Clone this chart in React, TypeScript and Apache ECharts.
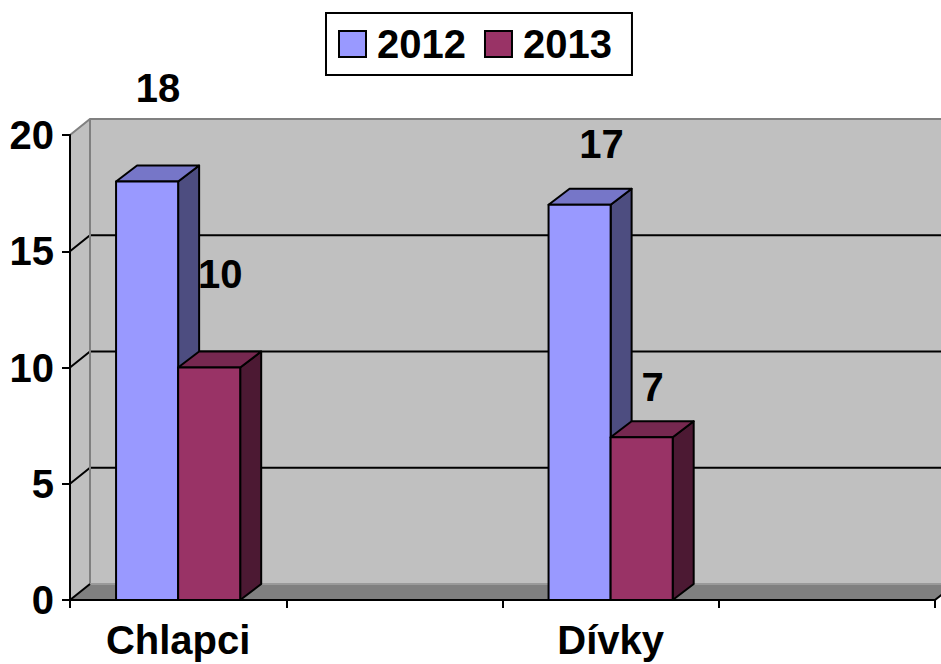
import React, { useEffect, useRef } from "react";
import * as echarts from "echarts";

const categories = ["Chlapci", "", "Dívky", ""];
const values2012 = [18, null, 17, null];
const values2013 = [10, null, 7, null];
const yMin = 0;
const yMax = 20;
const yStep = 5;
const seriesNames = ["2012", "2013"];

// style constants
const FONT = "'Liberation Sans', Arial, Helvetica, sans-serif";
const DX = 20; // wall depth offset
const DY = -16;
const BDX = 21; // bar depth offset
const BDY = -16;
const BAR_FRAC = 0.287;
const COLORS = {
  "2012": { front: "#9999FF", top: "#7676C8", side: "#4D4D80" },
  "2013": { front: "#993366", top: "#762850", side: "#4C1933" },
};
// label offsets in px relative to bar front top-centre, per category
const LABEL_SHIFT: Record<string, number[][]> = {
  "2012": [[11, -94], [0, 0], [22, -61], [0, 0]],
  "2013": [[11, -94], [0, 0], [11, -50], [0, 0]],
};

function toData(vals: (number | null)[]) {
  const out: number[][] = [];
  vals.forEach((v, i) => {
    if (v != null) out.push([i, v]);
  });
  return out;
}

function wallRender(params: any, api: any) {
  const cs = params.coordSys;
  const L = cs.x;
  const R = cs.x + cs.width;
  const B = api.coord([0, yMin])[1];
  const T = api.coord([0, yMax])[1];
  const children: any[] = [];
  // back wall
  children.push({
    type: "polygon",
    shape: { points: [[L + DX, T + DY], [R + DX + 40, T + DY], [R + DX + 40, B + DY], [L + DX, B + DY]] },
    style: { fill: "#C0C0C0", stroke: "none" },
  });
  // left wall
  children.push({
    type: "polygon",
    shape: { points: [[L, T], [L + DX, T + DY], [L + DX, B + DY], [L, B]] },
    style: { fill: "#C0C0C0", stroke: "none" },
  });
  // floor
  children.push({
    type: "polygon",
    shape: { points: [[L, B], [L + DX, B + DY], [R + DX, B + DY], [R, B]] },
    style: { fill: "#808080", stroke: "none" },
  });
  // gridlines
  for (let t = yMin + yStep; t < yMax; t += yStep) {
    const y = api.coord([0, t])[1];
    children.push({
      type: "polyline",
      shape: { points: [[L, y], [L + DX, y + DY], [R + DX + 40, y + DY]] },
      style: { stroke: "#000", lineWidth: 2, fill: "none" },
    });
  }
  // wall edges
  children.push({
    type: "polyline",
    shape: { points: [[L, T], [L + DX, T + DY], [R + DX + 40, T + DY]] },
    style: { stroke: "#808080", lineWidth: 2, fill: "none" },
  });
  children.push({
    type: "line",
    shape: { x1: L + DX, y1: T + DY, x2: L + DX, y2: B + DY },
    style: { stroke: "#808080", lineWidth: 2 },
  });
  children.push({
    type: "line",
    shape: { x1: L + DX, y1: B + DY, x2: R + DX + 40, y2: B + DY },
    style: { stroke: "#9A9A9A", lineWidth: 2 },
  });
  children.push({
    type: "line",
    shape: { x1: L, y1: B, x2: L + DX, y2: B + DY },
    style: { stroke: "#000", lineWidth: 2 },
  });
  children.push({
    type: "line",
    shape: { x1: R, y1: B, x2: R + DX, y2: B + DY },
    style: { stroke: "#000", lineWidth: 2 },
  });
  return { type: "group", children };
}

function makeBarRender(name: string, sideSign: number) {
  const c = (COLORS as any)[name];
  const shifts = LABEL_SHIFT[name];
  return (params: any, api: any) => {
    const ci = api.value(0);
    const v = api.value(1);
    const [cx, yt] = api.coord([ci, v]);
    const yb = api.coord([ci, yMin])[1];
    const band = api.size([1, 0])[0];
    const w = band * BAR_FRAC;
    const x0 = sideSign < 0 ? cx - w : cx;
    const x1 = x0 + w;
    const sh = shifts[ci] || [0, -40];
    const stroke = { stroke: "#000", lineWidth: 2, lineJoin: "round" };
    return {
      type: "group",
      children: [
        {
          type: "polygon",
          shape: { points: [[x1, yt], [x1 + BDX, yt + BDY], [x1 + BDX, yb + BDY], [x1, yb]] },
          style: { fill: c.side, ...stroke },
        },
        {
          type: "polygon",
          shape: { points: [[x0, yt], [x0 + BDX, yt + BDY], [x1 + BDX, yt + BDY], [x1, yt]] },
          style: { fill: c.top, ...stroke },
        },
        {
          type: "rect",
          shape: { x: x0, y: yt, width: w, height: yb - yt },
          style: { fill: c.front, ...stroke },
        },
        {
          type: "text",
          x: (x0 + x1) / 2 + sh[0],
          y: yt + sh[1],
          style: {
            text: String(v),
            fill: "#000",
            font: `bold 40px ${FONT}`,
            align: "center",
            verticalAlign: "middle",
          },
        },
      ],
    };
  };
}

export default function App() {
  const ref = useRef<HTMLDivElement>(null);
  useEffect(() => {
    document.body.style.margin = "0";
    if (!ref.current) return;
    const chart = echarts.init(ref.current, undefined, { renderer: "svg" });
    chart.setOption({
      animation: false,
      backgroundColor: "#fff",
      grid: { left: 70, right: 6, top: 135, bottom: 64, containLabel: false, outerBoundsMode: "none" },
      legend: {
        data: seriesNames,
        left: 326,
        top: 13,
        icon: "rect",
        itemWidth: 27,
        itemHeight: 26,
        itemGap: 18,
        padding: [11, 20, 11, 12],
        borderColor: "#000",
        borderWidth: 2,
        borderRadius: 0,
        backgroundColor: "#fff",
        selectedMode: false,
        itemStyle: { borderColor: "#000", borderWidth: 2 },
        textStyle: { fontSize: 40, fontWeight: "bold", color: "#000", fontFamily: FONT, padding: [0, 0, 0, 6] },
      },
      xAxis: {
        type: "category",
        data: categories,
        boundaryGap: true,
        z: 10,
        axisLine: { show: true, lineStyle: { color: "#000", width: 2 } },
        axisTick: { show: true, alignWithLabel: false, interval: 0, length: 8, lineStyle: { color: "#000", width: 2 } },
        axisLabel: { interval: 0, margin: 20, fontSize: 40, fontWeight: "bold", color: "#000", fontFamily: FONT },
        splitLine: { show: false },
      },
      yAxis: {
        type: "value",
        min: yMin,
        max: yMax,
        interval: yStep,
        z: 10,
        axisLine: { show: true, lineStyle: { color: "#000", width: 2 } },
        axisTick: { show: true, length: 8, lineStyle: { color: "#000", width: 2 } },
        axisLabel: { margin: 16, fontSize: 40, fontWeight: "bold", color: "#000", fontFamily: FONT },
        splitLine: { show: false },
      },
      series: [
        {
          type: "custom",
          name: "walls",
          silent: true,
          z: 1,
          renderItem: wallRender,
          data: [[0, 0]],
        },
        {
          type: "custom",
          name: "2012",
          z: 2,
          itemStyle: { color: COLORS["2012"].front },
          renderItem: makeBarRender("2012", -1),
          data: toData(values2012),
        },
        {
          type: "custom",
          name: "2013",
          z: 3,
          itemStyle: { color: COLORS["2013"].front },
          renderItem: makeBarRender("2013", 1),
          data: toData(values2013),
        },
      ],
    });
    return () => chart.dispose();
  }, []);
  return <div ref={ref} style={{ width: 941, height: 664 }} />;
}
